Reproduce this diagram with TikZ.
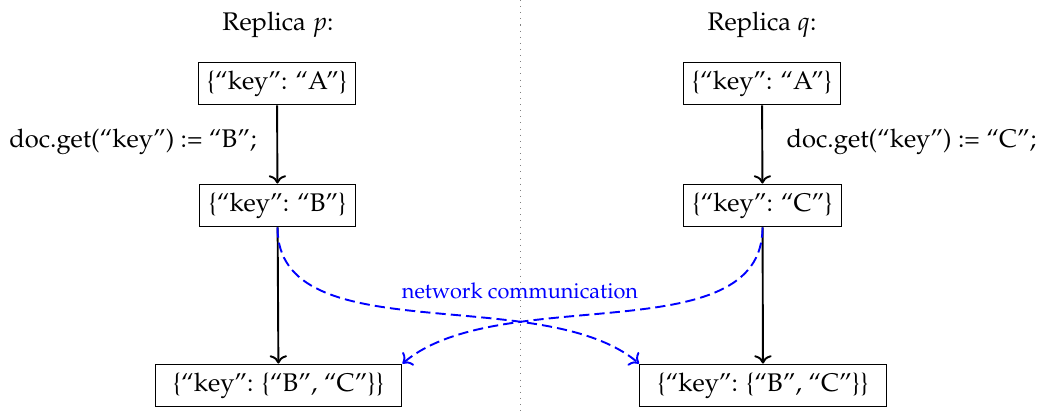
\documentclass[tikz,border=0pt]{standalone}
\usepackage[T1]{fontenc}
\usepackage{mathpazo}
\usetikzlibrary{arrows.meta}
\begin{document}
\begin{tikzpicture}[x=0.392pt,y=-0.392pt,
  box/.style={draw, line width=0.4pt, inner sep=0.3333em, minimum height=16.8pt},
  wide/.style={minimum width=96.8pt},
  flow/.style={->, line width=0.75pt},
  net/.style={->, blue, line width=0.75pt, dash pattern=on 4pt off 2pt},
  lbl/.style={inner sep=2pt}]
\useasboundingbox (0,0) rectangle (1039,413);
\coordinate (top) at (520,0);
\coordinate (bot) at (520,413);
\draw[dotted, gray, line width=0.4pt] (top) -- (bot);

\node (tp) at (278,25) {Replica $p$:};
\node (tq) at (762,25) {Replica $q$:};

\node[box] (pA) at (277,83.5) {\{``key'': ``A''\}};
\node[box] (pB) at (277.5,205.5) {\{``key'': ``B''\}};
\node[box, wide] (pBC) at (278.5,385.5) {\{``key'': \{``B'', ``C''\}\}};

\node[box] (qA) at (762,83.5) {\{``key'': ``A''\}};
\node[box] (qC) at (762.5,205.5) {\{``key'': ``C''\}};
\node[box, wide] (qBC) at (763,385.5) {\{``key'': \{``B'', ``C''\}\}};

\draw[flow] (pA) -- (pB);
\draw[flow] (pB) -- (pBC);
\draw[flow] (qA) -- (qC);
\draw[flow] (qC) -- (qBC);

\node[lbl, anchor=east] (lp) at (262,142) {doc.get(``key'') := ``B'';};
\node[lbl, anchor=west] (lq) at (781,142) {doc.get(``key'') := ``C'';};

\draw[net] (pB.south) .. controls +(0,126) and +(-97,-82) .. (qBC.north west);
\draw[net] (qC.south) .. controls +(0,126) and +(97,-82) .. (pBC.north east);

\node[blue, inner sep=1pt, font=\fontsize{8.5}{10}\selectfont] (nc) at (520,291) {network communication};
\end{tikzpicture}
\end{document}
